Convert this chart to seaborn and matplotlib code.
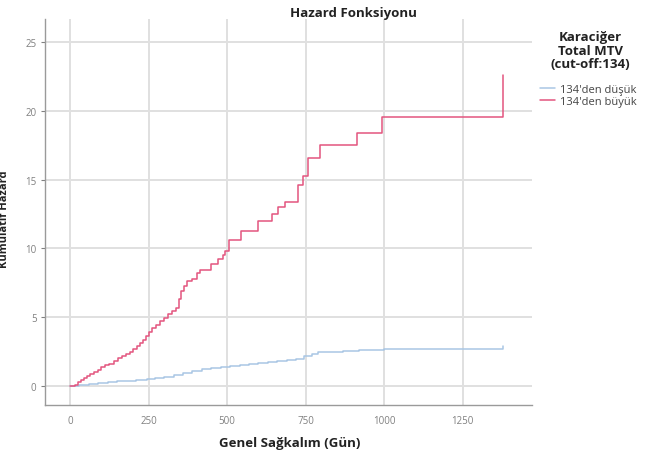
import numpy as np
import pandas as pd
import matplotlib
matplotlib.use("Agg")
import matplotlib.pyplot as plt
from matplotlib.lines import Line2D
import seaborn as sns

# Cumulative hazard estimates, low-MTV group (step function)
low_days = [0, 30, 60, 90, 120, 150, 180, 210, 245, 270, 300, 330, 360, 390, 420,
            450, 480, 510, 540, 570, 600, 630, 660, 690, 720, 745, 770, 790, 830,
            870, 920, 970, 1000, 1378]
low_haz = [0.0, 0.05, 0.12, 0.18, 0.25, 0.32, 0.38, 0.44, 0.5, 0.58, 0.68, 0.8,
           0.95, 1.08, 1.2, 1.27, 1.38, 1.48, 1.55, 1.62, 1.7, 1.77, 1.84, 1.9,
           1.97, 2.15, 2.3, 2.45, 2.5, 2.55, 2.6, 2.63, 2.65, 2.9]

# Cumulative hazard estimates, high-MTV group (step function)
high_days = [0, 15, 25, 35, 45, 55, 65, 75, 88, 100, 112, 125, 140, 152, 165, 178,
             190, 200, 212, 222, 232, 242, 252, 262, 275, 288, 300, 312, 325, 338,
             348, 355, 362, 372, 390, 405, 415, 448, 470, 487, 495, 505, 546, 598,
             642, 662, 685, 725, 741, 757, 795, 915, 993, 1378]
high_haz = [0.0, 0.1, 0.25, 0.4, 0.55, 0.7, 0.85, 1.0, 1.15, 1.35, 1.5, 1.6, 1.8,
            2.0, 2.15, 2.3, 2.5, 2.7, 2.9, 3.1, 3.35, 3.65, 3.95, 4.2, 4.45, 4.7,
            4.95, 5.2, 5.45, 5.65, 6.3, 6.9, 7.3, 7.6, 7.8, 8.2, 8.45, 8.9, 9.2,
            9.5, 9.8, 10.6, 11.3, 12.0, 12.5, 13.0, 13.4, 14.6, 15.3, 16.6, 17.5,
            18.4, 19.6, 22.6]

groups = ["134'den düşük", "134'den büyük"]
colors = ["#a9c6e4", "#e3557f"]
legend_title = "Karaciğer\nTotal MTV\n(cut-off:134)"

x_ticks = [0, 250, 500, 750, 1000, 1250]
y_ticks = [0, 5, 10, 15, 20, 25]

df = pd.concat([
    pd.DataFrame({"day": low_days, "haz": low_haz, "grp": groups[0]}),
    pd.DataFrame({"day": high_days, "haz": high_haz, "grp": groups[1]}),
], ignore_index=True)

sns.set_theme(style="white")
plt.rcParams["font.family"] = ["Open Sans", "DejaVu Sans"]

fig = plt.figure(figsize=(6.5, 4.56), dpi=100)
ax = fig.add_axes([0.069, 0.110, 0.749, 0.846])

sns.lineplot(data=df, x="day", y="haz", hue="grp", palette=colors,
             hue_order=groups, drawstyle="steps-post", estimator=None,
             sort=False, linewidth=1.1, legend=False, ax=ax, zorder=3)

ax.set_xlim(-80, 1470)
ax.set_ylim(-1.38, 26.7)
ax.set_xticks(x_ticks)
ax.set_yticks(y_ticks)
ax.grid(True, color="#e0e0e0", linewidth=1.4)
ax.set_axisbelow(True)
for s in ["top", "right"]:
    ax.spines[s].set_visible(False)
for s in ["left", "bottom"]:
    ax.spines[s].set_color("#9a9a9a")
    ax.spines[s].set_linewidth(1.0)
ax.tick_params(axis="both", labelsize=7, colors="#808080", length=3,
               width=0.8, direction="out", pad=3, left=True, bottom=False)
ax.tick_params(axis="x", pad=4)
ax.set_xlabel("")
ax.set_ylabel("")

fig.text(0.446, 0.028, "Genel Sağkalım (Gün)", ha="center", va="center",
         fontsize=9.5, fontweight="bold", color="#222222")
fig.text(0.543, 0.970, "Hazard Fonksiyonu", ha="center", va="center",
         fontsize=9.5, fontweight="bold", color="#222222")
fig.text(0.007, 0.52, "Kümülatif Hazard", ha="center", va="center",
         rotation=90, fontsize=8, fontweight="bold", color="#222222")

# Legend title as a centred block above the entries
fig.text(0.908, 0.888, legend_title, ha="center", va="center",
         fontsize=9.5, fontweight="bold", color="#222222", linespacing=1.08,
         multialignment="center")

handles = [Line2D([0], [0], color=c, lw=1.1) for c in colors]
leg = fig.legend(handles, groups, loc="upper center",
                 bbox_to_anchor=(0.905, 0.826), frameon=False,
                 fontsize=8, handlelength=1.4, handletextpad=0.4,
                 labelspacing=0.12, borderpad=0.0)
for t in leg.get_texts():
    t.set_color("#444444")

fig.savefig("out.png", dpi=100)
